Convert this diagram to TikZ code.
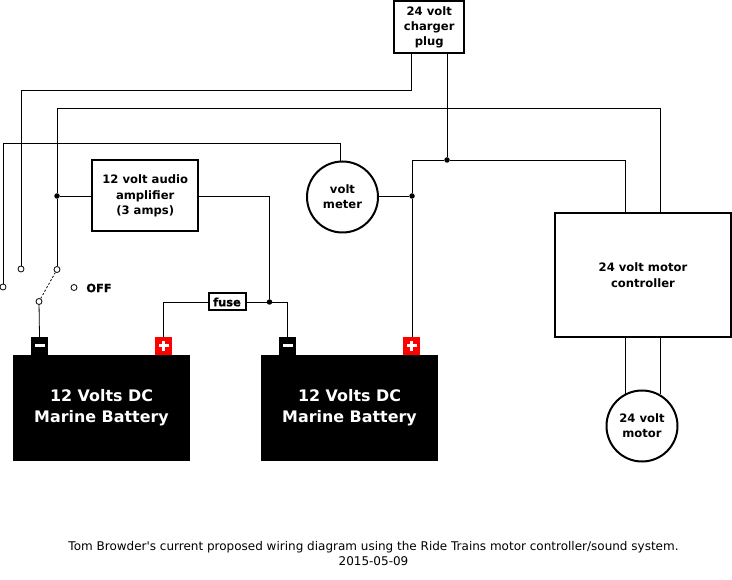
\documentclass[tikz,border=0pt]{standalone}
\usepackage{fontspec}
\setmainfont{DejaVu Sans}
\newfontfamily\plainfam{DejaVu Sans}
\newfontfamily\heavyfam{DejaVu Sans Bold}[FakeBold=1.2]
\begin{document}
\begin{tikzpicture}[x=1pt,y=-1pt,
  box/.style={draw=black,line width=2pt,fill=white,align=center,font=\fontsize{11.6}{15.2}\selectfont\bfseries,inner sep=0pt},
  lower/.style={execute at begin node={\vspace*{2pt}}},
  wire/.style={draw=black,line width=0.8pt},
  batt/.style={fill=black,text=white,draw=none,minimum width=177pt,minimum height=106pt,inner sep=0pt,align=center,font=\fontsize{15.9}{21}\selectfont\bfseries},
  term/.style={minimum width=17.5pt,minimum height=18pt,inner sep=0pt,draw=none},
  dotj/.style={circle,fill=black,draw=none,minimum size=5.5pt,inner sep=0pt},
  swt/.style={circle,draw=black,fill=white,line width=0.8pt,minimum size=6pt,inner sep=0pt}]
\useasboundingbox (0,0) rectangle (732,580);
% boxes
\node[box,lower,minimum width=70pt,minimum height=52pt] (plug) at (429.2,27.5) {24 volt\\charger\\plug};
\node[box,minimum width=106pt,minimum height=71pt] (amp) at (145.2,196) {12 volt audio\\amplifier\\(3 amps)};
\node[box,lower,minimum width=175.5pt,minimum height=123.5pt] (ctrl) at (643,275.2) {24 volt motor\\controller};
\node[box,lower,circle,minimum size=71pt] (meter) at (342.5,197) {volt\\meter};
\node[batt,lower] (b1) at (101.5,408) {12 Volts DC\\Marine Battery};
\node[batt,lower] (b2) at (349.5,408) {12 Volts DC\\Marine Battery};
% terminals
\node[term,fill=black] (n1) at (39.5,346) {};
\node[term,fill=red] (p1) at (163.5,346) {};
\node[term,fill=black] (n2) at (287.5,346) {};
\node[term,fill=red] (p2) at (411.5,346) {};
\foreach \t in {n1,n2}{\fill[white] ([xshift=-5pt,yshift=-1.5pt]\t.center) rectangle ([xshift=5pt,yshift=1.5pt]\t.center);}
\foreach \t in {p1,p2}{\fill[white] ([xshift=-5pt,yshift=-1.5pt]\t.center) rectangle ([xshift=5pt,yshift=1.5pt]\t.center);
  \fill[white] ([xshift=-1.5pt,yshift=-5pt]\t.center) rectangle ([xshift=1.5pt,yshift=5pt]\t.center);}
% fuse
\node[box,minimum width=37pt,minimum height=17pt,font=\fontsize{11.4}{12}\heavyfam\selectfont] (fuse) at (227,302) {fuse};
% switch
\node[swt] (s1) at (3,287) {};
\node[swt] (s2) at (21,269) {};
\node[swt] (s3) at (57,269.5) {};
\node[swt] (sc) at (39,301.5) {};
\node[swt] (soff) at (74,287.5) {};
\node[font=\fontsize{11.4}{12}\heavyfam\selectfont] (off) at (99,288) {OFF};
% junctions
\node[dotj] (j1) at (447,160) {};
\node[dotj] (j2) at (412,196) {};
\node[dotj] (j3) at (57,196) {};
\node[dotj] (j4) at (269.5,302) {};
% wires
\draw[wire] (plug.south -| 411,0) |- (21,90) -- (s2);
\draw[wire] (plug.south -| j1) -- (j1);
\draw[wire] (ctrl.north -| 625,0) |- (j1);
\draw[wire] (j1) -- (412,160) -- (j2);
\draw[wire] (j2) -- (p2.north -| j2);
\draw[wire] (meter.east |- j2) -- (j2);
\draw[wire] (ctrl.north -| 660,0) |- (57,108) -- (j3);
\draw[wire] (j3) -- (s3);
\draw[wire] (j3) -- (amp.west |- j3);
\draw[wire] (amp.east |- j3) -| (j4);
\draw[wire] (s1) |- (340,143) -- (340,161);
\draw[wire] (p1.north) |- (fuse.west);
\draw[wire] (fuse.east) -- (j4);
\draw[wire] (j4) -| (n2.north);
\draw[wire] (n1.north) -- (sc);
\draw[wire,dash pattern=on 2pt off 2pt] (sc) -- (s3);
\draw[wire] (ctrl.south -| 625,0) -- (625,394);
\draw[wire] (ctrl.south -| 660,0) -- (660,394);
\node[box,lower,circle,minimum size=71pt] (motor) at (642,426) {24 volt\\motor};
\node[align=center,font=\fontsize{12}{15}\plainfam\selectfont] (cap) at (373.5,553.5) {Tom Browder's current proposed wiring diagram using the Ride Trains motor controller/sound system.\\2015-05-09};
\end{tikzpicture}
\end{document}
